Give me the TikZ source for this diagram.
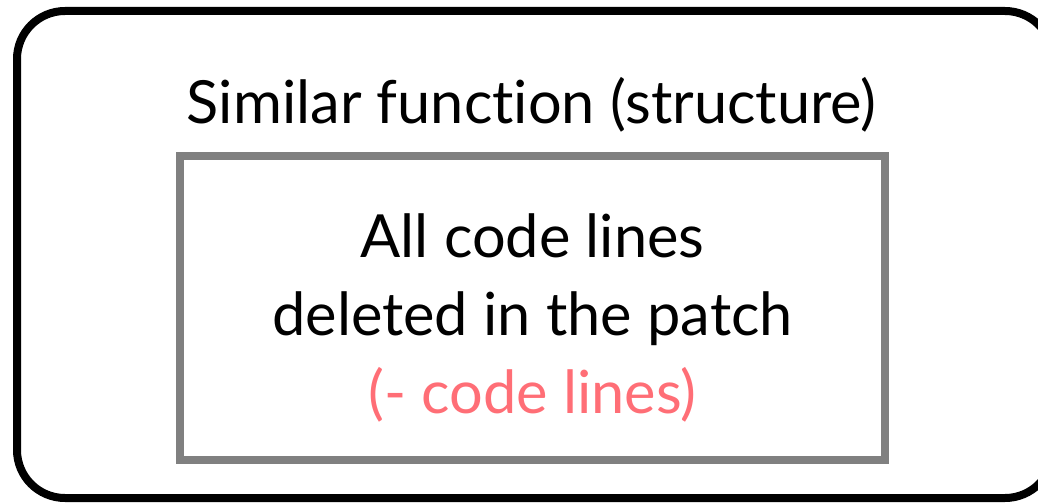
\documentclass[tikz,border=0pt]{standalone}
\usepackage{fontspec}
\setmainfont{Lato}[Ligatures={NoCommon}]
\definecolor{boxgray}{RGB}{128,128,128}
\definecolor{delred}{RGB}{255,110,118}
\begin{document}
\begin{tikzpicture}[x=1pt,y=-1pt,
  outerbox/.style={draw=black,line width=8pt,rounded corners=48pt},
  innerbox/.style={draw=boxgray,line width=8pt},
  label/.style={anchor=base,inner sep=0pt,font=\fontsize{59.5}{70}\selectfont}]
  \useasboundingbox (0,0) rectangle (1038,503);
  % outer container, running off the right edge
  \draw[outerbox] (17,11) rectangle (1053,498);
  % inner region
  \draw[innerbox] (180,156) rectangle (885,460);
  \node[label] (title) at (531.5,123) {Similar function (structure)};
  \node[label] (l1) at (532.5,257) {All code lines};
  \node[label] (l2) at (532.5,335) {deleted in the patch};
  \node[label,text=delred] (l3) at (532.5,413) {(- code lines)};
\end{tikzpicture}
\end{document}
